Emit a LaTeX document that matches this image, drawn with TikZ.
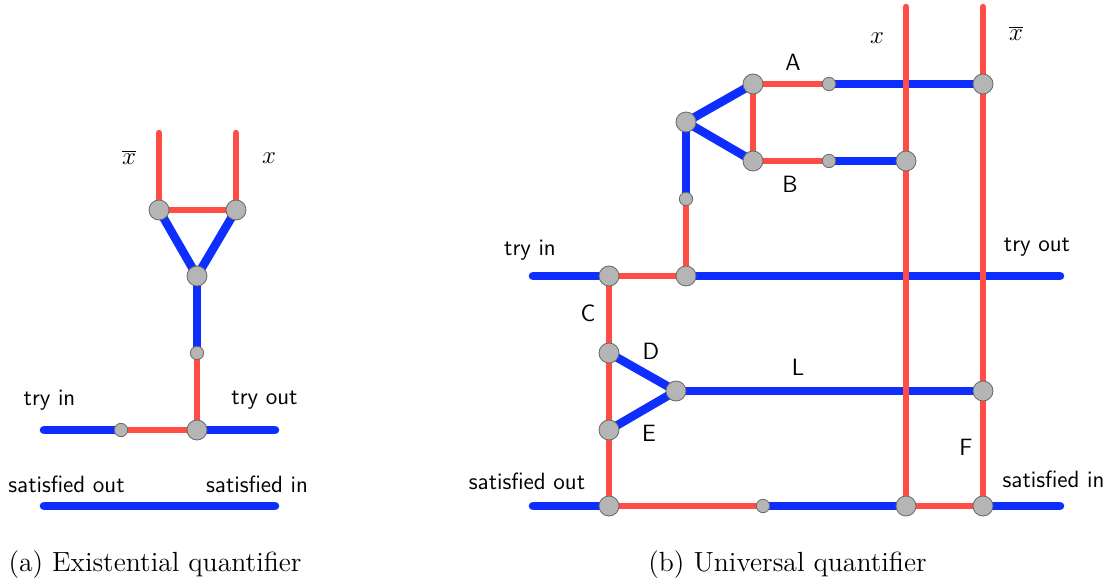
\documentclass[tikz,border=0pt]{standalone}
\usetikzlibrary{backgrounds}
\definecolor{wred}{RGB}{255,77,69}
\definecolor{wblue}{RGB}{13,46,255}
\definecolor{jgray}{RGB}{181,181,181}
\definecolor{jedge}{RGB}{105,105,105}
\begin{document}
\begin{tikzpicture}[x=0.48pt,y=-0.48pt,
  redw/.style={line cap=round,line width=3.1pt,draw=wred},
  bluew/.style={line cap=round,line width=4.1pt,draw=wblue},
  big/.style={circle,fill=jgray,draw=jedge,line width=0.4pt,minimum size=9.6pt,inner sep=0pt},
  small/.style={circle,fill=jgray,draw=jedge,line width=0.4pt,minimum size=6.4pt,inner sep=0pt},
  lab/.style={inner sep=0pt,font=\fontsize{11.3}{13}\selectfont\sffamily},
  mathlab/.style={inner sep=0pt,font=\fontsize{11.5}{13}\selectfont},
  plain/.style={inner sep=0pt,font=\fontsize{13.3}{15}\selectfont}]
\useasboundingbox (0,0) rectangle (1108,581);
% --- (a) nodes
\coordinate (a1) at (159,133);
\coordinate (a2) at (236,133);
\coordinate (a3) at (44,430);
\coordinate (a4) at (275,430);
\coordinate (a5) at (44,506);
\coordinate (a6) at (275,506);
\path (159,210) node[big] (an) {};
\path (236,210) node[big] (ax) {};
\path (197,276) node[big] (at) {};
\path (197,353) node[small] (as) {};
\path (197,430) node[big] (ab) {};
\path (121,430) node[small] (ac) {};
% --- (b) nodes
\coordinate (b1) at (906,7);
\coordinate (b2) at (983,7);
\coordinate (b3) at (533,276);
\coordinate (b4) at (1060,276);
\coordinate (b5) at (533,506);
\coordinate (b6) at (1060,506);
\path (753,84) node[big] (A) {};
\path (829,84) node[small] (As) {};
\path (983,84) node[big] (Ae) {};
\path (753,161) node[big] (B) {};
\path (829,161) node[small] (Bs) {};
\path (906,161) node[big] (Be) {};
\path (686,122) node[big] (T) {};
\path (686,199) node[small] (Ts) {};
\path (686,276) node[big] (Tb) {};
\path (609,276) node[big] (C) {};
\path (609,353) node[big] (D) {};
\path (609,430) node[big] (E) {};
\path (676,391) node[big] (L) {};
\path (983,391) node[big] (Le) {};
\path (609,506) node[big] (S1) {};
\path (763,506) node[small] (S2) {};
\path (906,506) node[big] (S3) {};
\path (983,506) node[big] (S4) {};
\begin{pgfonlayer}{background}
% --- (a) wires
\draw[bluew] (a3) -- (ac.center);
\draw[bluew] (ab.center) -- (a4);
\draw[redw] (ac.center) -- (ab.center);
\draw[bluew] (a5) -- (a6);
\draw[redw] (ab.center) -- (as.center);
\draw[bluew] (as.center) -- (at.center);
\draw[bluew] (at.center) -- (an.center);
\draw[bluew] (at.center) -- (ax.center);
\draw[redw] (an.center) -- (ax.center);
\draw[redw] (an.center) -- (a1);
\draw[redw] (ax.center) -- (a2);
% --- (b) wires
\draw[bluew] (b3) -- (C.center);
\draw[redw] (C.center) -- (Tb.center);
\draw[bluew] (Tb.center) -- (b4);
\draw[redw] (Tb.center) -- (Ts.center);
\draw[bluew] (Ts.center) -- (T.center);
\draw[bluew] (T.center) -- (A.center);
\draw[bluew] (T.center) -- (B.center);
\draw[redw] (A.center) -- (B.center);
\draw[redw] (A.center) -- (As.center);
\draw[bluew] (As.center) -- (Ae.center);
\draw[redw] (B.center) -- (Bs.center);
\draw[bluew] (Bs.center) -- (Be.center);
\draw[redw] (C.center) -- (S1.center);
\draw[bluew] (D.center) -- (L.center);
\draw[bluew] (E.center) -- (L.center);
\draw[bluew] (L.center) -- (Le.center);
\draw[bluew] (b5) -- (S1.center);
\draw[redw] (S1.center) -- (S2.center);
\draw[bluew] (S2.center) -- (S3.center);
\draw[redw] (S3.center) -- (S4.center);
\draw[bluew] (S4.center) -- (b6);
\draw[redw] (b1) -- (S3.center);
\draw[redw] (b2) -- (S4.center);
\end{pgfonlayer}
% --- labels (a)
\node[mathlab] (t1) at (129,157.5) {$\overline{x}$};
\node[mathlab] (t2) at (269,158.5) {$x$};
\node[lab] (t3) at (49.5,400) {try in};
\node[lab] (t4) at (264.5,400) {try out};
\node[lab] (t5) at (66.5,484) {satisfied out};
\node[lab] (t6) at (257,484) {satisfied in};
\node[plain] (t7) at (155,565) {(a) Existential quantifier};
% --- labels (b)
\node[mathlab] (t8) at (877,38.5) {$x$};
\node[mathlab] (t9) at (1016,33.5) {$\overline{x}$};
\node[lab] (t10) at (793,62) {A};
\node[lab] (t11) at (790,184) {B};
\node[lab] (t12) at (530,250) {try in};
\node[lab] (t13) at (1037,247) {try out};
\node[lab] (t14) at (588,313) {C};
\node[lab] (t15) at (651,351) {D};
\node[lab] (t16) at (649,433) {E};
\node[lab] (t17) at (798,367) {L};
\node[lab] (t18) at (966,447) {F};
\node[lab] (t19) at (527,481) {satisfied out};
\node[lab] (t20) at (1053.5,479) {satisfied in};
\node[plain] (t21) at (787.5,565) {(b) Universal quantifier};
\end{tikzpicture}
\end{document}
